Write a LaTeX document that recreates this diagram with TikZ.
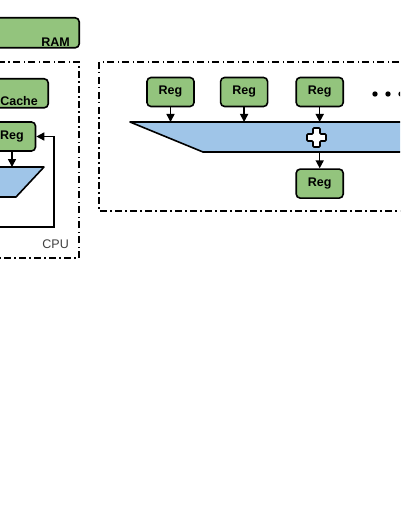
\documentclass[tikz,border=0pt]{standalone}
\usepackage{fontspec}
\setmainfont{Liberation Sans}
\usetikzlibrary{arrows.meta, positioning}
\definecolor{regfill}{HTML}{93C47D}
\definecolor{alufill}{HTML}{9FC5E8}
\tikzset{
  unit/.style={draw, fill=regfill, rounded corners=4pt, line width=1.6pt, minimum width=47pt, minimum height=29pt, inner sep=0pt, font=\fontsize{12.5}{14}\selectfont\bfseries},
  tag/.style={anchor=base east, inner sep=0pt, font=\fontsize{12.5}{14}\selectfont\bfseries},
  group/.style={draw, line width=1.5pt, dash pattern=on 7pt off 3pt on 1.5pt off 3.5pt},
  arr/.style={-{Triangle[length=8pt,width=8pt]}, line width=1.5pt},
  op/.style={draw, fill=alufill, line width=1.6pt, line join=round}
}

\begin{document}
\begin{tikzpicture}[x=1pt, y=-1pt]
\useasboundingbox (0,0) rectangle (400,516);
\clip (0,0) rectangle (400,516);

\node[unit, minimum width=230pt, minimum height=30pt, anchor=north east,
  label={[tag, xshift=-10pt, yshift=2pt]south east:RAM}] (ram) at (80,17) {};

\draw[group] (-100,62) rectangle (79,258);
\node[anchor=base east, inner sep=0pt, font=\fontsize{12.5}{14}\selectfont, text=black!75] (cpu) at (69,248) {CPU};

\node[unit, minimum width=120pt, anchor=north east,
  label={[tag, xshift=-11pt, yshift=3pt]south east:Cache}] (cache) at (49,78) {};
\node[unit] (lreg) at (12,136.5) {Reg};

\draw[op] (-60,167) -- (44,167) -- (16,197) -- (-35,197) -- cycle;
\coordinate (alutop) at (0,167);
\coordinate (fb) at (-40,227);
\draw[arr] (lreg) -- (lreg |- alutop);
\draw[arr] (fb) -| ([xshift=17.5pt]lreg.east) -- (lreg.east);

\draw[group] (99,62) rectangle (520,211);
\node[unit] (ra) at (170.5,92) {Reg};
\node[unit, right=25pt of ra] (rb) {Reg};
\node[unit, right=27pt of rb] (rc) {Reg};
\node[unit, below=61pt of rc] (ro) {Reg};
\foreach \x in {375,388,401}
  \fill (\x,94) circle (2.7pt);

\draw[op] (130,122) -- (520,122) -- (520,152) -- (203,152) -- cycle;
\coordinate (addtop) at (0,122);
\coordinate (addbot) at (0,152);
\coordinate (plusc) at (316.5,137.5);
\draw[arr] (ra) -- (ra |- addtop);
\draw[arr] (rb) -- (rb |- addtop);
\draw[arr] (rc) -- (rc |- addtop);
\draw[arr] (rc |- addbot) -- (ro);
\draw[fill=white, line width=1.6pt, rounded corners=1pt, shift={(plusc)}]
  (-3.5,-9.5) -- (3.5,-9.5) -- (3.5,-3.5) -- (9.5,-3.5) -- (9.5,3.5) -- (3.5,3.5)
  -- (3.5,9.5) -- (-3.5,9.5) -- (-3.5,3.5) -- (-9.5,3.5) -- (-9.5,-3.5) -- (-3.5,-3.5) -- cycle;

\end{tikzpicture}
\end{document}
